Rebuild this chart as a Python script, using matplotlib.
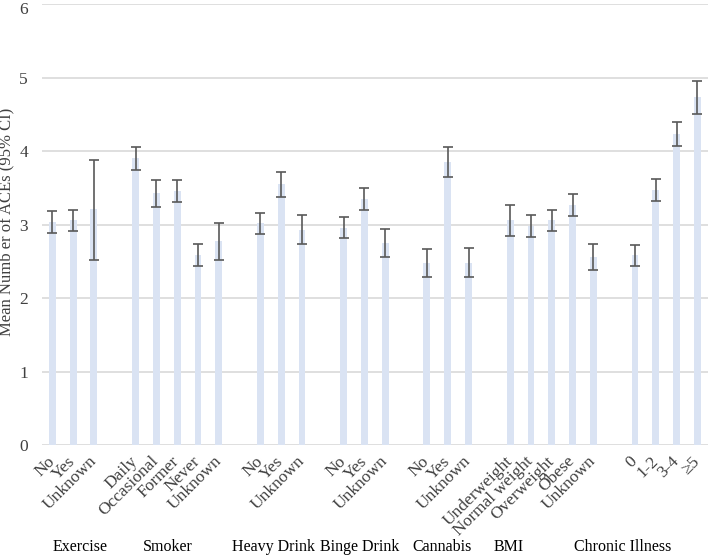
import matplotlib
matplotlib.use("Agg")
import matplotlib.pyplot as plt
import matplotlib.transforms as mtransforms
import numpy as np

plt.rcParams["font.family"] = ["Liberation Serif", "DejaVu Serif"]

# data
groups = ["Exercise", "Smoker", "Heavy Drink", "Binge Drink", "Cannabis", "BMI", "Chronic Illness"]
labels = [
    ["No", "Yes", "Unknown"],
    ["Daily", "Occasional", "Former", "Never", "Unknown"],
    ["No", "Yes", "Unknown"],
    ["No", "Yes", "Unknown"],
    ["No", "Yes", "Unknown"],
    ["Underweight", "Normal weight", "Overweight", "Obese", "Unknown"],
    ["0", "1-2", "3-4", "\u22655"],
]
means = [
    [3.04, 3.06, 3.21],
    [3.90, 3.43, 3.46, 2.59, 2.78],
    [3.02, 3.55, 2.93],
    [2.95, 3.35, 2.75],
    [2.47, 3.85, 2.48],
    [3.06, 2.98, 3.06, 3.26, 2.56],
    [2.58, 3.47, 4.23, 4.73],
]
ci_low = [
    [2.88, 2.91, 2.52],
    [3.74, 3.24, 3.31, 2.44, 2.52],
    [2.87, 3.37, 2.73],
    [2.81, 3.20, 2.56],
    [2.28, 3.65, 2.28],
    [2.84, 2.83, 2.91, 3.11, 2.38],
    [2.44, 3.32, 4.07, 4.50],
]
ci_high = [
    [3.18, 3.20, 3.88],
    [4.06, 3.60, 3.61, 2.73, 3.02],
    [3.16, 3.71, 3.13],
    [3.10, 3.50, 2.94],
    [2.67, 4.05, 2.68],
    [3.27, 3.13, 3.20, 3.41, 2.73],
    [2.72, 3.62, 4.39, 4.95],
]

# x positions: one empty slot between groups
xs, ticklabels, m, lo, hi = [], [], [], [], []
pos = 0
for g in range(len(groups)):
    for i in range(len(labels[g])):
        xs.append(pos)
        ticklabels.append(labels[g][i])
        m.append(means[g][i])
        lo.append(ci_low[g][i])
        hi.append(ci_high[g][i])
        pos += 1
    pos += 1
xs = np.array(xs)
m = np.array(m)
yerr = [m - np.array(lo), np.array(hi) - m]

fig = plt.figure(figsize=(7.1, 5.56), dpi=100)
ax = fig.add_axes([0.059, 0.1996, 0.938, 0.7932])

ax.bar(xs, m, width=0.33, color="#dae3f3", zorder=2)
ax.errorbar(xs, m, yerr=yerr, fmt="none", ecolor="#595959", elinewidth=1.2,
            capsize=3.5, capthick=1.2, zorder=3)

ax.set_xlim(-0.5, 31.5)
ax.set_ylim(0, 6)
ax.set_yticks(range(7))
ax.yaxis.grid(True, color="#d9d9d9", linewidth=1.2, zorder=0)
for s in ax.spines.values():
    s.set_visible(False)
ax.tick_params(axis="both", length=0, colors="#404040", labelsize=12.5)
ax.tick_params(axis="y", pad=10)
ax.set_xticks(xs)
ax.set_xticklabels(ticklabels, rotation=45, ha="right", va="center",
                   rotation_mode="anchor", fontsize=12.5, color="#404040")
ax.tick_params(axis="x", pad=10)

# top tick label nudged down so it stays inside the picture
top_lab = ax.get_yticklabels()[-1]
top_lab.set_transform(top_lab.get_transform() +
                      mtransforms.ScaledTranslation(0, -3 / 72, fig.dpi_scale_trans))

fig.text(0.0095, 1 - 222 / 556, "Mean Numb er of ACEs (95% CI)", rotation=90,
         ha="center", va="center", fontsize=12, color="#404040")

# group names sit below the tick labels, placed like text boxes
group_x = [0.0, 4.36, 8.64, 12.85, 17.3, 21.2, 25.07]
trans = mtransforms.blended_transform_factory(ax.transData, fig.transFigure)
for gx, name in zip(group_x, groups):
    ax.text(gx, 0.016, name, transform=trans, ha="left", va="center",
            fontsize=11.5, color="black")

fig.savefig("out.png", dpi=100)
